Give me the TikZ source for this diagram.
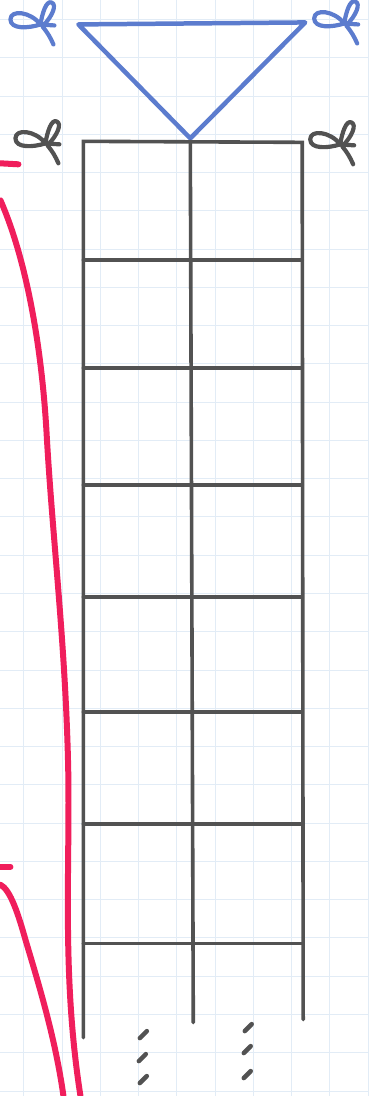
\documentclass[tikz,border=0pt]{standalone}
\usepackage{tikz}

\definecolor{paperline}{RGB}{226,236,246}
\definecolor{penblue}{RGB}{92,124,206}
\definecolor{pengray}{RGB}{82,82,82}
\definecolor{penred}{RGB}{240,30,92}

\tikzset{
  paper/.style={paperline, line width=0.9pt},
  ladder/.style={pengray, line width=3.6pt, line cap=round},
  rope/.style={penblue, line width=4.5pt, line cap=round, line join=round},
  rail/.style={penred, line width=6pt, line cap=round},
  knotline/.style={line width=4.2pt, line cap=round, line join=round},
  knot/.pic={
    \draw[knotline] (0,0) .. controls (-10,-13) and (-30,-15) .. (-30,-5)
      .. controls (-30,5) and (-12,4) .. (0,0);
    \draw[knotline] (0,0) .. controls (2,-12) and (6,-24) .. (11,-22)
      .. controls (17,-20) and (12,-8) .. (2,2) .. controls (7,8) and (10,13) .. (13,20);
    \draw[knotline] (-2,0) -- (14,1);
  }
}

\begin{document}
\begin{tikzpicture}[x=1pt,y=-1pt]
  \fill[white] (0,0) rectangle (369,1096);
  \foreach \gx in {0,...,9} \draw[paper] (23.3+38.3*\gx,0) -- (23.3+38.3*\gx,1096);
  \foreach \gy in {0,...,28} \draw[paper] (0,19+38.3*\gy) -- (369,19+38.3*\gy);
  \useasboundingbox (0,0) rectangle (369,1096);

  \coordinate (tl) at (78,24);
  \coordinate (tr) at (305,22);
  \coordinate (apex) at (190,138);
  \draw[rope] (tl) -- (tr) -- (apex) -- cycle;
  \pic[penblue] at (40,24) {knot};
  \pic[penblue] at (344,23) {knot};

  \draw[ladder] (83,1038) -- (83,141) -- (302,142) -- (303,1020);
  \draw[ladder] (190,141) -- (193,1023);
  \foreach \ry in {260,368,485,597,712,824,944}
    \draw[ladder] (83,\ry) -- (302,\ry);
  \pic[pengray] at (45,143) {knot};
  \pic[pengray] at (340,144) {knot};

  \foreach \dx/\dy in {143/1035,142/1058,143/1080,248/1028,247/1050,247/1075}
    \draw[ladder, line width=4.5pt] (\dx-3.5,\dy+3.5) -- (\dx+3.5,\dy-3.5);

  \draw[rail] (0,163) -- (18,164);
  \draw[rail] (0,200) .. controls (22,250) and (40,330) .. (46,430)
    .. controls (52,540) and (66,650) .. (68,780)
    .. controls (69,880) and (62,980) .. (80,1096);
  \draw[rail] (0,867) -- (10,867);
  \draw[rail] (0,885) .. controls (10,890) and (18,915) .. (25,940)
    .. controls (40,990) and (55,1040) .. (63,1096);
\end{tikzpicture}
\end{document}
